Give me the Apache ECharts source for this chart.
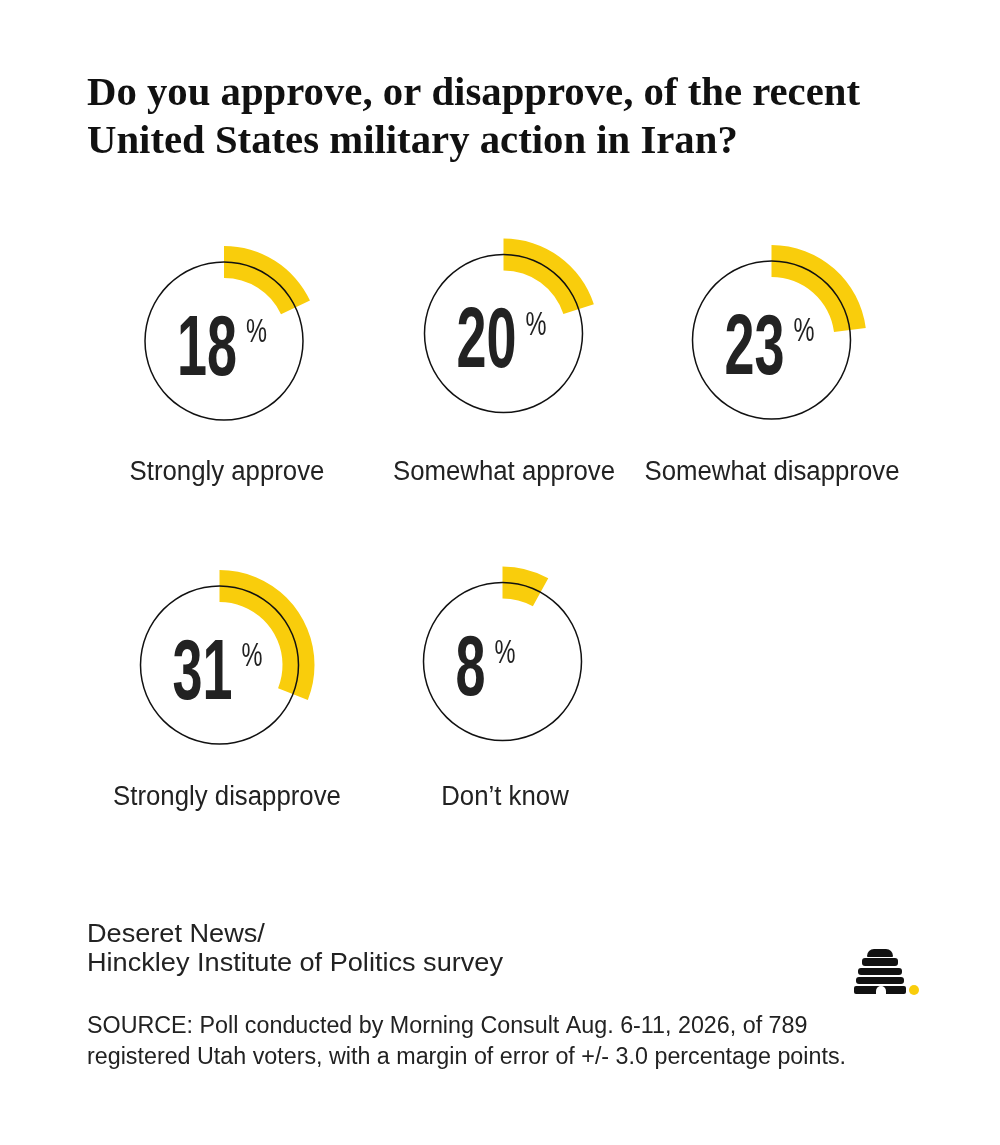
<!DOCTYPE html>
<html>
<head>
<meta charset="utf-8">
<script src="https://cdn.jsdelivr.net/npm/echarts@6/dist/echarts.min.js"></script>
<style>
html,body{margin:0;padding:0;background:#fff;}
#chart{width:1000px;height:1145px;}
</style>
</head>
<body>
<div id="chart"></div>
<script>
// ---- data ----
const categories = ['Strongly approve', 'Somewhat approve', 'Somewhat disapprove', 'Strongly disapprove', 'Don\u2019t know'];
const values = [18, 20, 23, 31, 8];
const titleLines = ['Do you approve, or disapprove, of the recent', 'United States military action in Iran?'];
const creditLines = ['Deseret News/', 'Hinckley Institute of Politics survey'];
const sourceLines = ['SOURCE: Poll conducted by Morning Consult Aug. 6-11, 2026, of 789', 'registered Utah voters, with a margin of error of +/- 3.0 percentage points.'];

// ---- layout ----
const YELLOW = '#F9CD0C';
const INK = '#1c1c1c';
const centers = [[224, 341], [503.5, 333.5], [771.5, 340], [219.5, 665], [502.5, 661.5]];
const labelPos = [[227, 472.5], [504, 472.5], [772, 472.5], [227, 797.5], [505, 797.5]];

const ctx = document.createElement('canvas').getContext('2d');
function measure(text, font) { ctx.font = font; return ctx.measureText(text).width; }

const FONT_NUM = 'bold 86px "Liberation Sans Narrow", "Liberation Sans", Roboto, sans-serif';
const FONT_PCT = '34px "Liberation Sans Narrow", "Liberation Sans", Roboto, sans-serif';
const FONT_TITLE = 'bold 40px "Liberation Serif", "DejaVu Serif", serif';
const FONT_LABEL = '27px "Liberation Sans Narrow", "Liberation Sans", Roboto, sans-serif';
const FONT_CREDIT = '25px "Liberation Sans", Roboto, sans-serif';
const FONT_SOURCE = '23px "Liberation Sans Narrow", "Liberation Sans", Roboto, sans-serif';

const sNum = 60 / measure('20', FONT_NUM);
const sPct = 21 / measure('%', FONT_PCT);
const sTitle = 773 / measure(titleLines[0], FONT_TITLE);
const sLabel = 255 / measure(categories[2], FONT_LABEL);
const sCredit = 416 / measure(creditLines[1], FONT_CREDIT);
const sSource = 759 / measure(sourceLines[1], FONT_SOURCE);

const graphics = [];
function txt(text, x, y, font, sx, align, vAlign, fill, z) {
  graphics.push({
    type: 'text', x: x, y: y, scaleX: sx, z: z || 20, silent: true,
    style: { text: text, font: font, fill: fill || INK, align: align || 'left', verticalAlign: vAlign || 'middle' }
  });
}

titleLines.forEach((t, i) => txt(t, 87, 95 + i * 48, FONT_TITLE, sTitle, 'left', 'middle', '#111'));

values.forEach((v, i) => {
  const [cx, cy] = centers[i];
  const numLeft = cx - 47;
  const numStr = String(v);
  txt(numStr, numLeft, cy + 10, FONT_NUM, sNum, 'left', 'middle', '#222', 40);
  const w = measure(numStr, FONT_NUM) * sNum;
  txt('%', numLeft + w + 9, cy - 8, FONT_PCT, sPct, 'left', 'middle', '#222', 40);
  txt(categories[i], labelPos[i][0], labelPos[i][1], FONT_LABEL, sLabel, 'center', 'middle', '#222');
});

creditLines.forEach((t, i) => txt(t, 87, 935 + i * 29.5, FONT_CREDIT, sCredit, 'left', 'middle', '#222'));
sourceLines.forEach((t, i) => txt(t, 87, 1027 + i * 30.5, FONT_SOURCE, sSource, 'left', 'middle', '#222'));

// beehive logo
const hive = [[867, 949, 26, 8, [7, 7, 1, 1]], [862, 958, 36, 8, 3], [858, 968, 44, 7, 3], [856, 977, 48, 7, 3], [854, 986, 52, 8, 2]];
hive.forEach(h => graphics.push({ type: 'rect', shape: { x: h[0], y: h[1], width: h[2], height: h[3], r: h[4] }, style: { fill: '#111' }, z: 20, silent: true }));
graphics.push({ type: 'rect', shape: { x: 876, y: 986, width: 10, height: 8, r: [5, 5, 0, 0] }, style: { fill: '#fff' }, z: 21, silent: true });
graphics.push({ type: 'circle', shape: { cx: 914, cy: 990, r: 5 }, style: { fill: YELLOW }, z: 20, silent: true });

const pieBase = {
  type: 'pie', startAngle: 90, clockwise: true, silent: true, animation: false,
  avoidLabelOverlap: false, label: { show: false }, labelLine: { show: false },
  emphasis: { disabled: true }, minAngle: 0, padAngle: 0
};
const arcSeries = values.map((v, i) => Object.assign({}, pieBase, {
  center: centers[i],
  radius: [63, 95],
  z: 2,
  itemStyle: { borderWidth: 0, borderRadius: 0 },
  data: [
    { value: v, name: categories[i], itemStyle: { color: YELLOW } },
    { value: 100 - v, name: 'rest', itemStyle: { color: 'rgba(0,0,0,0)' } }
  ]
}));
const ringSeries = values.map((v, i) => Object.assign({}, pieBase, {
  center: centers[i],
  radius: [78.25, 79.75],
  z: 5,
  itemStyle: { borderWidth: 0, color: '#111' },
  data: [{ value: 100, name: 'ring' }]
}));

const chart = echarts.init(document.getElementById('chart'), null, { renderer: 'canvas' });
chart.setOption({
  backgroundColor: '#fff',
  animation: false,
  tooltip: { show: false },
  legend: { show: false },
  series: arcSeries.concat(ringSeries),
  graphic: { elements: graphics }
});
</script>
</body>
</html>
